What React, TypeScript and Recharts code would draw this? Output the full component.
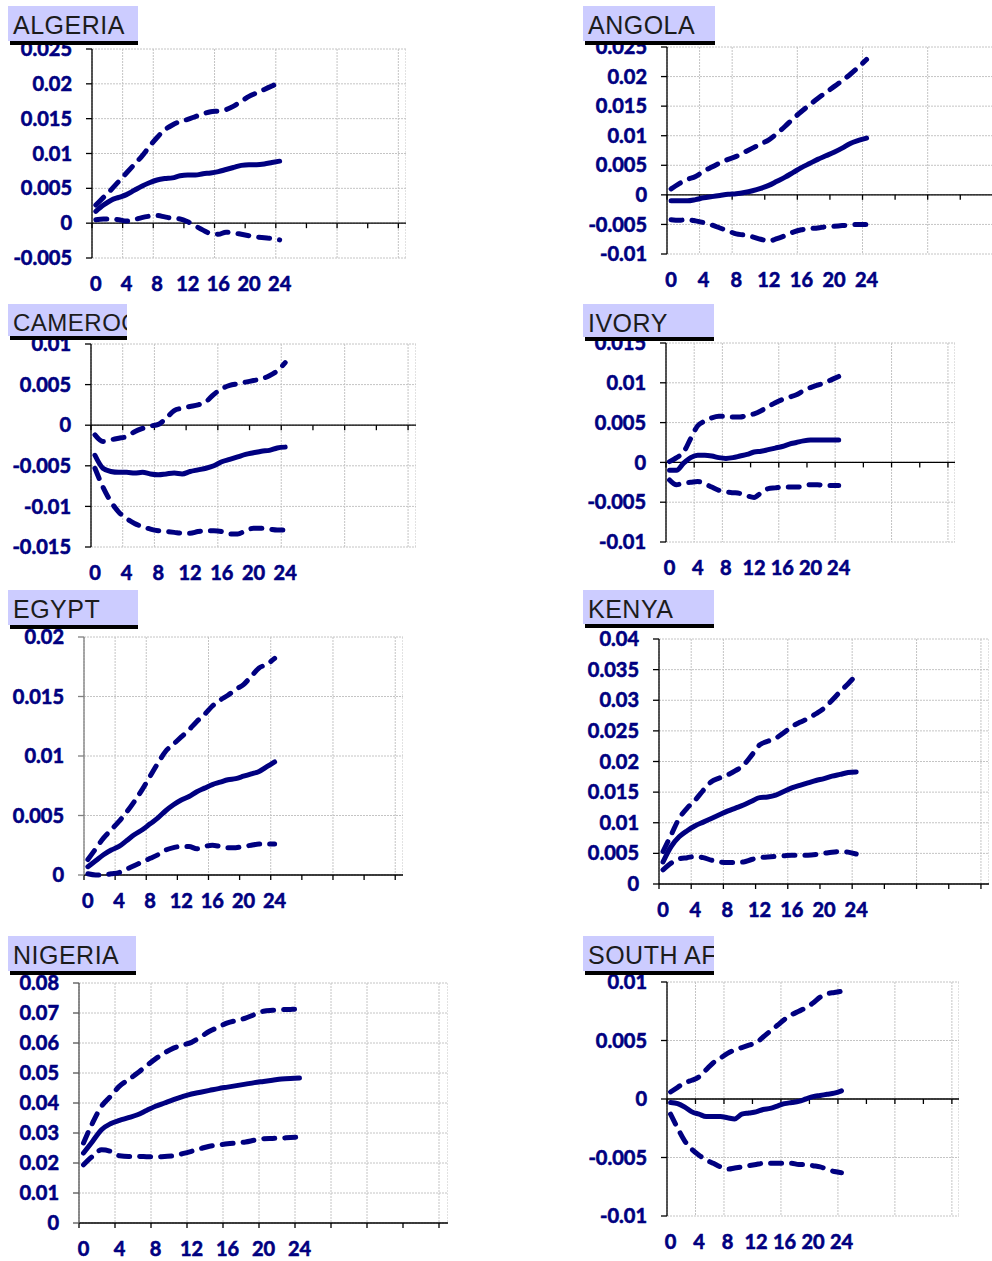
import React from 'react'
import { LineChart, Line, XAxis, YAxis, CartesianGrid, ReferenceLine } from 'recharts'

// horizon (quarters) of the impulse responses
const steps = [0, 1, 2, 3, 4, 5, 6, 7, 8, 9, 10, 11, 12, 13, 14, 15, 16, 17, 18, 19, 20, 21, 22, 23, 24]
const xLabels = [0, 4, 8, 12, 16, 20, 24]
// category boundaries, where the vertical grid lines sit
const gridTicks = [-0.5, 3.5, 7.5, 11.5, 15.5, 19.5, 23.5, 27.5, 31.5, 35.5, 39.5]
const X_MIN = -0.5
const X_MAX = 40.5

const algeriaIrf = [0.0017, 0.0026, 0.0033, 0.0037, 0.0041, 0.0047, 0.0053, 0.0058, 0.0062, 0.0064, 0.0065, 0.0068, 0.0069, 0.0069, 0.0071, 0.0072, 0.0074, 0.0077, 0.008, 0.0083, 0.0084, 0.0084, 0.0085, 0.0087, 0.0089]
const algeriaUpper = [0.0026, 0.0037, 0.0048, 0.006, 0.0072, 0.0084, 0.0096, 0.011, 0.0123, 0.0134, 0.0141, 0.0146, 0.0149, 0.0153, 0.0157, 0.016, 0.0161, 0.0163, 0.0168, 0.0175, 0.0182, 0.0187, 0.0192, 0.0197, 0.0202]
const algeriaLower = [0.0005, 0.0006, 0.0006, 0.0005, 0.0003, 0.0005, 0.0008, 0.001, 0.0011, 0.0009, 0.0007, 0.0006, 0.0002, -0.0004, -0.001, -0.0015, -0.0016, -0.0013, -0.0014, -0.0016, -0.0018, -0.002, -0.0021, -0.0022, -0.0024]
const algeriaTicks = [-0.005, 0, 0.005, 0.01, 0.015, 0.02, 0.025]

const angolaIrf = [-0.001, -0.001, -0.001, -0.0008, -0.0005, -0.0003, -0.0001, 0.0001, 0.0002, 0.0004, 0.0007, 0.0011, 0.0016, 0.0023, 0.003, 0.0038, 0.0046, 0.0053, 0.006, 0.0066, 0.0072, 0.0079, 0.0087, 0.0092, 0.0096]
const angolaUpper = [0.001, 0.0019, 0.0026, 0.0031, 0.004, 0.0047, 0.0054, 0.006, 0.0065, 0.0072, 0.0079, 0.0086, 0.0093, 0.0104, 0.0116, 0.0129, 0.0141, 0.0152, 0.0163, 0.0173, 0.0183, 0.0193, 0.0204, 0.0216, 0.0229]
const angolaLower = [-0.0042, -0.0043, -0.0042, -0.0044, -0.0047, -0.0051, -0.0056, -0.0061, -0.0066, -0.0068, -0.0071, -0.0075, -0.0078, -0.0074, -0.0069, -0.0063, -0.0059, -0.0057, -0.0056, -0.0054, -0.0053, -0.0052, -0.0051, -0.005, -0.005]
const angolaTicks = [-0.01, -0.005, 0, 0.005, 0.01, 0.015, 0.02, 0.025]

const cameroonIrf = [-0.0037, -0.0053, -0.0057, -0.0058, -0.0058, -0.0059, -0.0058, -0.006, -0.0061, -0.006, -0.0059, -0.006, -0.0057, -0.0055, -0.0053, -0.005, -0.0045, -0.0042, -0.0039, -0.0036, -0.0034, -0.0032, -0.0031, -0.0028, -0.0027]
const cameroonUpper = [-0.0012, -0.002, -0.0018, -0.0016, -0.0014, -0.0008, -0.0004, -0.0001, 0.0001, 0.0009, 0.0018, 0.0021, 0.0023, 0.0025, 0.0029, 0.0038, 0.0045, 0.0049, 0.0051, 0.0053, 0.0055, 0.0057, 0.0061, 0.0067, 0.0077]
const cameroonLower = [-0.0053, -0.0076, -0.0094, -0.0107, -0.0115, -0.0121, -0.0125, -0.0128, -0.013, -0.0131, -0.0132, -0.0133, -0.0133, -0.0131, -0.013, -0.013, -0.0131, -0.0134, -0.0134, -0.013, -0.0127, -0.0127, -0.0128, -0.0129, -0.0129]
const cameroonTicks = [-0.015, -0.01, -0.005, 0, 0.005, 0.01]

const ivoryIrf = [-0.001, -0.001, -0.0001, 0.0006, 0.0009, 0.0009, 0.0008, 0.0006, 0.0005, 0.0006, 0.0008, 0.001, 0.0013, 0.0014, 0.0016, 0.0018, 0.002, 0.0023, 0.0025, 0.0027, 0.0028, 0.0028, 0.0028, 0.0028, 0.0028]
const ivoryUpper = [0.0001, 0.0006, 0.0013, 0.003, 0.0046, 0.0052, 0.0056, 0.0058, 0.0058, 0.0057, 0.0057, 0.0059, 0.0061, 0.0065, 0.007, 0.0075, 0.0079, 0.0082, 0.0085, 0.009, 0.0094, 0.0097, 0.01, 0.0104, 0.0108]
const ivoryLower = [-0.0022, -0.0028, -0.0026, -0.0025, -0.0024, -0.0027, -0.0031, -0.0035, -0.0037, -0.0038, -0.0039, -0.0042, -0.0044, -0.0038, -0.0033, -0.0032, -0.0031, -0.0031, -0.0031, -0.003, -0.0028, -0.0028, -0.0029, -0.0029, -0.0029]
const ivoryTicks = [-0.01, -0.005, 0, 0.005, 0.01, 0.015]

const egyptIrf = [0.0007, 0.0012, 0.0017, 0.0021, 0.0024, 0.0029, 0.0034, 0.0038, 0.0043, 0.0048, 0.0054, 0.0059, 0.0063, 0.0066, 0.007, 0.0073, 0.0076, 0.0078, 0.008, 0.0081, 0.0083, 0.0085, 0.0087, 0.0091, 0.0095]
const egyptUpper = [0.0013, 0.0022, 0.0031, 0.0038, 0.0045, 0.0053, 0.0062, 0.0072, 0.0083, 0.0094, 0.0104, 0.011, 0.0116, 0.0122, 0.0129, 0.0135, 0.0142, 0.0147, 0.0151, 0.0156, 0.016, 0.0167, 0.0174, 0.0177, 0.0182]
const egyptLower = [0.0001, 0, 0, 0.0001, 0.0002, 0.0005, 0.0008, 0.0011, 0.0014, 0.0017, 0.0021, 0.0023, 0.0024, 0.0024, 0.0022, 0.0024, 0.0025, 0.0024, 0.0023, 0.0023, 0.0024, 0.0025, 0.0026, 0.0026, 0.0026]
const egyptTicks = [0, 0.005, 0.01, 0.015, 0.02]

const kenyaIrf = [0.0036, 0.0061, 0.0077, 0.0087, 0.0095, 0.0101, 0.0107, 0.0113, 0.0119, 0.0124, 0.0129, 0.0135, 0.0141, 0.0142, 0.0145, 0.0151, 0.0157, 0.0161, 0.0165, 0.0169, 0.0172, 0.0176, 0.0179, 0.0182, 0.0183]
const kenyaUpper = [0.0053, 0.008, 0.0107, 0.0124, 0.0137, 0.0153, 0.0167, 0.0173, 0.0178, 0.0185, 0.0194, 0.021, 0.0227, 0.0233, 0.0238, 0.0247, 0.0257, 0.0264, 0.027, 0.0278, 0.0287, 0.03, 0.0314, 0.0327, 0.0341]
const kenyaLower = [0.0023, 0.0034, 0.0041, 0.0043, 0.0045, 0.0043, 0.0039, 0.0036, 0.0035, 0.0035, 0.0036, 0.004, 0.0043, 0.0044, 0.0045, 0.0046, 0.0047, 0.0047, 0.0047, 0.0048, 0.005, 0.0052, 0.0053, 0.0052, 0.0049]
const kenyaTicks = [0, 0.005, 0.01, 0.015, 0.02, 0.025, 0.03, 0.035, 0.04]

const nigeriaIrf = [0.0233, 0.0272, 0.0311, 0.0331, 0.0342, 0.0351, 0.0361, 0.0375, 0.0389, 0.04, 0.0411, 0.0421, 0.043, 0.0436, 0.0442, 0.0448, 0.0453, 0.0458, 0.0463, 0.0468, 0.0472, 0.0476, 0.048, 0.0482, 0.0483]
const nigeriaUpper = [0.0267, 0.0333, 0.0389, 0.0422, 0.0456, 0.0478, 0.05, 0.0524, 0.0547, 0.0567, 0.0583, 0.0593, 0.0602, 0.062, 0.0639, 0.0653, 0.0667, 0.0675, 0.0683, 0.0695, 0.0706, 0.0709, 0.0711, 0.0712, 0.0713]
const nigeriaLower = [0.0194, 0.0222, 0.0244, 0.0239, 0.0224, 0.0222, 0.0222, 0.0221, 0.022, 0.0222, 0.0224, 0.0231, 0.0239, 0.0248, 0.0256, 0.026, 0.0264, 0.0267, 0.027, 0.0276, 0.0281, 0.0282, 0.0283, 0.0285, 0.0286]
const nigeriaTicks = [0, 0.01, 0.02, 0.03, 0.04, 0.05, 0.06, 0.07, 0.08]

const southAfricaIrf = [-0.0003, -0.0004, -0.0007, -0.0011, -0.0013, -0.0015, -0.0015, -0.0015, -0.0016, -0.0017, -0.0013, -0.0012, -0.0011, -0.0009, -0.0008, -0.0006, -0.0004, -0.0003, -0.0002, 0, 0.0002, 0.0003, 0.0004, 0.0005, 0.0007]
const southAfricaUpper = [0.0006, 0.001, 0.0014, 0.0016, 0.0019, 0.0025, 0.0031, 0.0035, 0.0039, 0.0042, 0.0044, 0.0046, 0.0048, 0.0053, 0.0058, 0.0063, 0.0068, 0.0072, 0.0075, 0.0078, 0.0082, 0.0087, 0.009, 0.0091, 0.0092]
const southAfricaLower = [-0.0013, -0.0025, -0.0036, -0.0043, -0.0048, -0.0052, -0.0055, -0.0058, -0.006, -0.0059, -0.0058, -0.0057, -0.0056, -0.0055, -0.0055, -0.0055, -0.0055, -0.0055, -0.0056, -0.0056, -0.0057, -0.0058, -0.006, -0.0062, -0.0063]
const southAfricaTicks = [-0.01, -0.005, 0, 0.005, 0.01]

const NAVY = '#000080'
const Y_AXIS_W = 80
const TOP_PAD = 12
const X_AXIS_H = 45

interface Panel {
  title: string
  irf: number[]
  upper: number[]
  lower: number[]
  yTicks: number[]
  // plot area in page pixels
  plotX: number
  plotY: number
  plotW: number
  plotH: number
  // title tab
  tabX: number
  tabY: number
  tabW: number
  tabH: number
  tabFont: number
  axisColor: string
}

const panels: Panel[] = [
  { title: 'ALGERIA', irf: algeriaIrf, upper: algeriaUpper, lower: algeriaLower, yTicks: algeriaTicks,
    plotX: 92, plotY: 49, plotW: 314, plotH: 209, tabX: 8, tabY: 6, tabW: 130, tabH: 35, tabFont: 25, axisColor: '#000' },
  { title: 'ANGOLA', irf: angolaIrf, upper: angolaUpper, lower: angolaLower, yTicks: angolaTicks,
    plotX: 667, plotY: 47, plotW: 334, plotH: 207, tabX: 583, tabY: 6, tabW: 132, tabH: 35, tabFont: 25, axisColor: '#000' },
  { title: 'CAMEROON', irf: cameroonIrf, upper: cameroonUpper, lower: cameroonLower, yTicks: cameroonTicks,
    plotX: 91, plotY: 344, plotW: 325, plotH: 203, tabX: 8, tabY: 304, tabW: 119, tabH: 32, tabFont: 24, axisColor: '#000' },
  { title: 'IVORY', irf: ivoryIrf, upper: ivoryUpper, lower: ivoryLower, yTicks: ivoryTicks,
    plotX: 666, plotY: 343, plotW: 289, plotH: 199, tabX: 583, tabY: 304, tabW: 131, tabH: 33, tabFont: 25, axisColor: '#000' },
  { title: 'EGYPT', irf: egyptIrf, upper: egyptUpper, lower: egyptLower, yTicks: egyptTicks,
    plotX: 84, plotY: 637, plotW: 319, plotH: 238, tabX: 8, tabY: 590, tabW: 130, tabH: 35, tabFont: 25, axisColor: '#808080' },
  { title: 'KENYA', irf: kenyaIrf, upper: kenyaUpper, lower: kenyaLower, yTicks: kenyaTicks,
    plotX: 659, plotY: 639, plotW: 330, plotH: 245, tabX: 583, tabY: 590, tabW: 131, tabH: 34, tabFont: 25, axisColor: '#000' },
  { title: 'NIGERIA', irf: nigeriaIrf, upper: nigeriaUpper, lower: nigeriaLower, yTicks: nigeriaTicks,
    plotX: 79, plotY: 983, plotW: 369, plotH: 240, tabX: 8, tabY: 936, tabW: 128, tabH: 35, tabFont: 25, axisColor: '#555' },
  { title: 'SOUTH AFRICA', irf: southAfricaIrf, upper: southAfricaUpper, lower: southAfricaLower, yTicks: southAfricaTicks,
    plotX: 667, plotY: 982, plotW: 292, plotH: 234, tabX: 583, tabY: 936, tabW: 131, tabH: 35, tabFont: 25, axisColor: '#000' },
]

// heavy navy digits; a thin outline thickens Lato bold a little
const tickFont = { fill: NAVY, stroke: NAVY, strokeWidth: 0.6, fontSize: 20, fontWeight: 700, fontFamily: 'Lato' }

// zero line with small tick marks hanging under each grid boundary
function ZeroAxis(props: any) {
  const { x1, y1, x2 } = props
  const span = X_MAX - X_MIN
  return (
    <g>
      <line x1={x1} y1={y1} x2={x2} y2={y1} stroke="#000" strokeWidth={1.3} />
      {gridTicks.map((t) => {
        const x = x1 + ((x2 - x1) * (t - X_MIN)) / span
        return <line key={t} x1={x} y1={y1} x2={x} y2={y1 + 5} stroke="#000" strokeWidth={1.3} />
      })}
    </g>
  )
}

function IrfPanel({ p }: { p: Panel }) {
  const rows = steps.map((s, i) => ({ step: s, lower: p.lower[i], irf: p.irf[i], upper: p.upper[i] }))
  const yMin = p.yTicks[0]
  const yMax = p.yTicks[p.yTicks.length - 1]
  const width = Y_AXIS_W + p.plotW
  const height = TOP_PAD + p.plotH + X_AXIS_H
  const lineProps = {
    type: 'monotone' as const,
    stroke: NAVY,
    strokeWidth: 5,
    strokeLinecap: 'round' as const,
    dot: false,
    activeDot: false,
    isAnimationActive: false,
  }

  return (
    <>
      <div style={{ position: 'absolute', left: p.plotX - Y_AXIS_W, top: p.plotY - TOP_PAD }}>
        <LineChart width={width} height={height} data={rows} margin={{ top: TOP_PAD, right: 0, bottom: 0, left: 0 }}>
          <CartesianGrid xAxisId="grid" stroke="#c4c4c4" strokeDasharray="2 1" />
          <XAxis
            dataKey="step"
            type="number"
            domain={[X_MIN, X_MAX]}
            ticks={xLabels}
            interval={0}
            axisLine={false}
            tickLine={false}
            tickSize={0}
            tickMargin={19}
            height={X_AXIS_H}
            tick={tickFont}
          />
          <XAxis xAxisId="grid" dataKey="step" type="number" domain={[X_MIN, X_MAX]} ticks={gridTicks} hide />
          <YAxis
            type="number"
            domain={[yMin, yMax]}
            ticks={p.yTicks}
            interval={0}
            width={Y_AXIS_W}
            tickSize={6}
            tickMargin={14}
            axisLine={{ stroke: p.axisColor, strokeWidth: 1.3 }}
            tickLine={{ stroke: p.axisColor, strokeWidth: 1.3 }}
            tick={tickFont}
          />
          <ReferenceLine y={0} shape={ZeroAxis} />
          <Line dataKey="upper" {...lineProps} strokeDasharray="11 10" />
          <Line dataKey="lower" {...lineProps} strokeDasharray="11 10" />
          <Line dataKey="irf" {...lineProps} />
        </LineChart>
      </div>
      <div
        style={{
          position: 'absolute',
          left: p.tabX + 2,
          top: p.tabY + p.tabH,
          width: p.tabW - 2,
          height: 3.5,
          background: '#000',
        }}
      />
      <div
        style={{
          position: 'absolute',
          left: p.tabX,
          top: p.tabY,
          width: p.tabW,
          height: p.tabH,
          background: '#ccccff',
          overflow: 'hidden',
          whiteSpace: 'nowrap',
          boxSizing: 'border-box',
          paddingLeft: 5,
          paddingTop: 5,
          fontFamily: '"Liberation Sans", Arial, sans-serif',
          fontSize: p.tabFont,
          letterSpacing: 0.5,
          color: '#1c1c1c',
        }}
      >
        {p.title}
      </div>
    </>
  )
}

export default function App() {
  return (
    <div style={{ position: 'absolute', left: 0, top: 0, width: 992, height: 1261, overflow: 'hidden', background: '#fff' }}>
      {panels.map((p) => (
        <IrfPanel key={p.title} p={p} />
      ))}
    </div>
  )
}
